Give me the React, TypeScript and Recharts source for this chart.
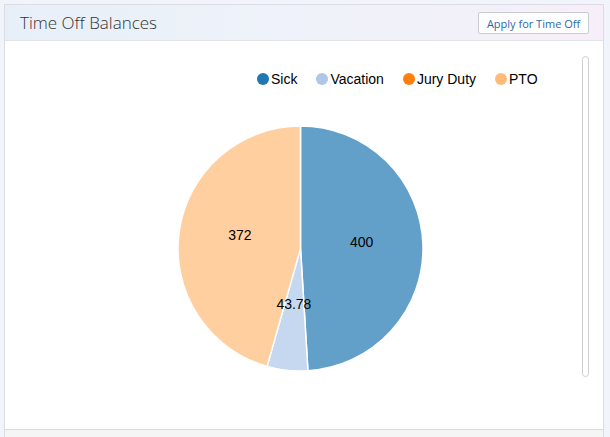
import React from 'react';
import { PieChart, Pie, Cell, Legend } from 'recharts';

const categories = ['Sick', 'Vacation', 'Jury Duty', 'PTO'];
const balances = [400, 43.78, 0, 372];
const labelTexts = ['400', '43.78', '', '372'];
const legendColors = ['#1f77b4', '#aec7e8', '#ff7f0e', '#ffbb78'];

const data = categories.map((name, i) => ({ name, value: balances[i], label: labelTexts[i] }));

const RAD = Math.PI / 180;

const renderLabel = (props: any) => {
  const { cx, cy, midAngle, outerRadius, index } = props;
  const txt = labelTexts[index];
  if (!txt) return null;
  const r = outerRadius * 0.5;
  const x = cx + r * Math.cos(-midAngle * RAD);
  const y = cy + r * Math.sin(-midAngle * RAD);
  return (
    <text x={x} y={y} textAnchor="middle" fill="#000" fontSize={14} fontFamily="'Liberation Sans', Arial, sans-serif">
      {txt}
    </text>
  );
};

const renderLegend = () => (
  <div style={{ display: 'flex', alignItems: 'center', fontFamily: "'Liberation Sans', Arial, sans-serif", fontSize: 14, color: '#000', whiteSpace: 'nowrap' }}>
    {categories.map((c, i) => (
      <div key={c} style={{ display: 'flex', alignItems: 'center', marginRight: 19 }}>
        <span style={{ display: 'inline-block', width: 12, height: 12, borderRadius: 6, background: legendColors[i], marginRight: 2 }} />
        <span>{c}</span>
      </div>
    ))}
  </div>
);

export default function App() {
  return (
    <div style={{ position: 'fixed', left: 0, top: 0, width: 610, height: 437, background: '#f1f4fa', overflow: 'hidden' }}>
      <div style={{ position: 'absolute', left: 4, top: 4, width: 600, height: 440, border: '1px solid #dcdde2', background: '#fff', boxSizing: 'border-box' }}>
        <div style={{ position: 'absolute', left: 0, top: 0, right: 0, height: 35, borderBottom: '1px solid #e2e4ea', background: 'linear-gradient(90deg, #e7eff8 0%, #eef2f9 40%, #f1f1f9 70%, #f7eef8 100%)' }}>
          <div style={{ position: 'absolute', left: 15, top: 6, fontFamily: "'Open Sans', sans-serif", fontWeight: 300, fontSize: 17, color: '#333' }}>Time Off Balances</div>
          <div style={{ position: 'absolute', left: 473, top: 7, width: 111, height: 22, border: '1px solid #c9ccd3', borderRadius: 2, background: '#fff', boxSizing: 'border-box', display: 'flex', alignItems: 'center', justifyContent: 'center', fontFamily: "'Open Sans', sans-serif", fontSize: 11, color: '#2b6aaf' }}>Apply for Time Off</div>
        </div>
        <div style={{ position: 'absolute', left: 577, top: 51, width: 7, height: 321, border: '1px solid #cfcfcf', borderRadius: 4, background: '#fff', boxSizing: 'border-box' }} />
        <div style={{ position: 'absolute', left: 0, right: 0, top: 424, height: 20, borderTop: '1px solid #dcdcdc', background: '#f5f5f5' }} />
      </div>
      <div style={{ position: 'absolute', left: 0, top: 0 }}>
        <PieChart width={610} height={437} margin={{ top: 0, right: 0, bottom: 0, left: 0 }}>
          <Legend
            content={renderLegend}
            layout="horizontal"
            verticalAlign="middle"
            align="center"
            wrapperStyle={{ position: 'absolute', top: 71, left: 257, width: 'auto', height: 16 }}
          />
          <Pie
            data={data}
            dataKey="value"
            nameKey="name"
            cx={300.5}
            cy={248.5}
            outerRadius={122.5}
            startAngle={90}
            endAngle={-270}
            stroke="#fff"
            strokeWidth={1.5}
            label={renderLabel}
            labelLine={false}
            isAnimationActive={false}
          >
            {data.map((d, i) => (
              <Cell key={d.name} fill={legendColors[i]} fillOpacity={0.7} />
            ))}
          </Pie>
        </PieChart>
      </div>
    </div>
  );
}
